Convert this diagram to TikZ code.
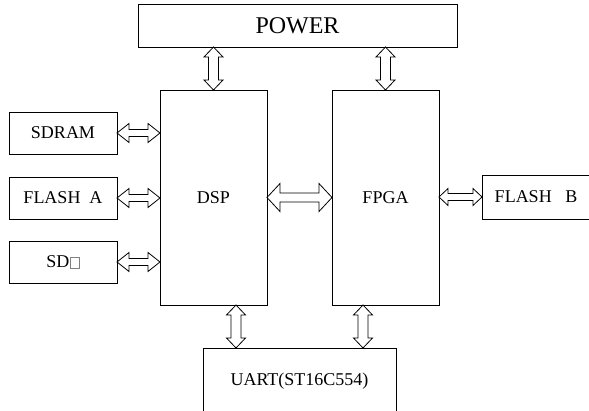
\documentclass[tikz,border=0pt]{standalone}
\usepackage{fontspec}
\setmainfont{Liberation Serif}
\usetikzlibrary{calc}

\newcommand{\blankglyph}{{\color{gray}\fboxrule=0.6pt\fboxsep=0pt\fbox{\rule{0pt}{10pt}\hspace{8pt}}}}

\tikzset{
	block/.style={draw, line width=0.8pt, inner sep=0pt, outer sep=0pt, font=\fontsize{18}{20}\selectfont},
	hbus/.style n args={3}{line width=0.8pt, to path={let \p1=(\tikztostart), \p2=(\tikztotarget) in
		(\x1,\y1) -- (\x1+#1,\y1+#2) -- (\x1+#1,\y1+#3) -- (\x2-#1,\y1+#3) -- (\x2-#1,\y1+#2) -- (\x2,\y1)
		-- (\x2-#1,\y1-#2) -- (\x2-#1,\y1-#3) -- (\x1+#1,\y1-#3) -- (\x1+#1,\y1-#2) -- cycle}},
	vbus/.style n args={3}{line width=0.8pt, to path={let \p1=(\tikztostart), \p2=(\tikztotarget) in
		(\x1,\y1) -- (\x1+#2,\y1-#1) -- (\x1+#3,\y1-#1) -- (\x1+#3,\y2+#1) -- (\x1+#2,\y2+#1) -- (\x1,\y2)
		-- (\x1-#2,\y2+#1) -- (\x1-#3,\y2+#1) -- (\x1-#3,\y1-#1) -- (\x1-#2,\y1-#1) -- cycle}}
}

\begin{document}
\begin{tikzpicture}[x=1pt, y=-1pt]
		\clip (0,0) rectangle (589,411);

		\node[block, minimum width=319pt, minimum height=43pt, font=\fontsize{24}{26}\selectfont] (power) at (297.5,25.5) {POWER};
		\node[block, minimum width=107pt, minimum height=215pt] (dsp) at (213.5,197.5) {DSP};
		\node[block, minimum width=107pt, minimum height=215pt] (fpga) at (385.5,197.5) {FPGA};

		\node[block, minimum width=108pt, minimum height=42pt] (sdram) at (63,133) {SDRAM};
		\node[block, minimum width=108pt, minimum height=42pt] (flasha) at (63,198) {FLASH\ \ A};
		\node[block, minimum width=108pt, minimum height=42pt] (sd) at (63,262) {SD\hspace{1pt}\blankglyph};
		\node[block, minimum width=108pt, minimum height=44pt] (flashb) at (536,197) {FLASH\ \ \ B};

		\node[block, minimum width=193pt, minimum height=66pt] (uart) at (299.5,381) {UART(ST16C554)};

		\draw[vbus={10pt}{9.5pt}{5pt}] (dsp.north |- power.south) to (dsp.north);
		\draw[vbus={10pt}{9.5pt}{5pt}] (fpga.north |- power.south) to (fpga.north);

		\draw[hbus={12pt}{9.5pt}{3.5pt}] (sdram.east) to (sdram.east -| dsp.west);
		\draw[hbus={12pt}{9.5pt}{3.5pt}] (flasha.east) to (flasha.east -| dsp.west);
		\draw[hbus={12pt}{9.5pt}{3.5pt}] (sd.east) to (sd.east -| dsp.west);

		\draw[hbus={13pt}{14pt}{4.5pt}] (dsp.east) to (fpga.west);
		\draw[hbus={9pt}{8.5pt}{3.5pt}] (fpga.east |- flashb.west) to (flashb.west);

		\coordinate (u1) at ($(uart.north west)+(33,0)$);
		\coordinate (u2) at ($(uart.north east)+(-33,0)$);
		\draw[vbus={10pt}{9.5pt}{5pt}] (u1 |- dsp.south) to (u1);
		\draw[vbus={10pt}{9.5pt}{5pt}] (u2 |- fpga.south) to (u2);
\end{tikzpicture}
\end{document}
